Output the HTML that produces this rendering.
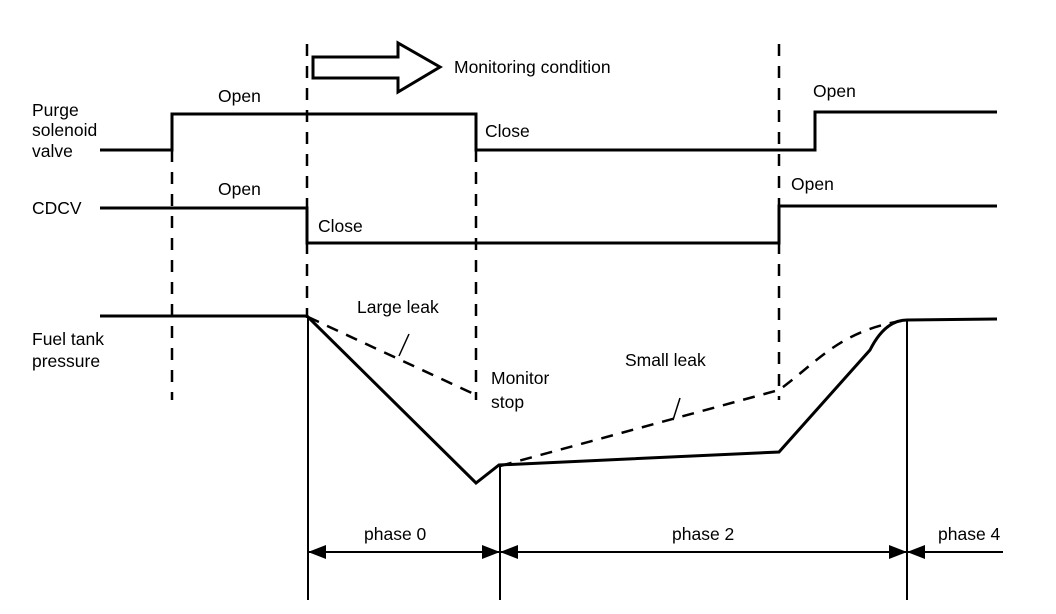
<!DOCTYPE html>
<html><head><meta charset="utf-8"><style>
html,body{margin:0;padding:0;background:#fff;}
svg{display:block;}
text{font-family:"Liberation Sans",sans-serif;font-size:17.5px;fill:#000;}
</style></head><body>
<svg width="1056" height="614" viewBox="0 0 1056 614" xmlns="http://www.w3.org/2000/svg">
<g fill="none" stroke="#000">
<g stroke-width="2.5" stroke-dasharray="12,10">
<line x1="172" y1="150" x2="172" y2="400"/>
<line x1="307" y1="44" x2="307" y2="318"/>
<line x1="476" y1="150" x2="476" y2="400"/>
<line x1="779" y1="44" x2="779" y2="400"/>
</g>
<g stroke-width="2">
<line x1="308" y1="316" x2="308" y2="600"/>
<line x1="500" y1="465" x2="500" y2="600"/>
<line x1="907" y1="320" x2="907" y2="600"/>
</g>
<g stroke-width="3">
<polyline points="100,150 172,150 172,114 476,114 476,150 815,150 815,112 997,112"/>
<polyline points="100,208 307,208 307,243 779,243 779,206 997,206"/>
<path d="M100,316 L307,316 L476,483 L499,465 L779,452 L870,350 Q885,320 907,320 L997,319"/>
</g>
<g stroke-width="2.5" stroke-dasharray="12,9">
<line x1="308" y1="317" x2="476" y2="395"/>
<path d="M500,466 L779,390 C820,360 840,330 907,320"/>
</g>
<g stroke-width="1.5">
<line x1="409" y1="334" x2="399" y2="356"/>
<line x1="680" y1="398" x2="673" y2="420"/>
</g>
<line x1="308" y1="552" x2="1003" y2="552" stroke-width="2"/>
<polygon points="313,57 398,57 398,43 440,67 398,92 398,78 313,78" stroke-width="3" fill="#fff"/>
</g>
<g fill="#000">
<polygon points="308,552 326,545 326,559"/>
<polygon points="500,552 482,545 482,559"/>
<polygon points="500,552 518,545 518,559"/>
<polygon points="907,552 889,545 889,559"/>
<polygon points="907,552 925,545 925,559"/>
</g>
<text x="454" y="73">Monitoring condition</text>
<text x="32" y="116">Purge</text>
<text x="32" y="136">solenoid</text>
<text x="32" y="157">valve</text>
<text x="218" y="102">Open</text>
<text x="485" y="137">Close</text>
<text x="813" y="97">Open</text>
<text x="32" y="214">CDCV</text>
<text x="218" y="195">Open</text>
<text x="318" y="232">Close</text>
<text x="791" y="190">Open</text>
<text x="32" y="345">Fuel tank</text>
<text x="32" y="367">pressure</text>
<text x="357" y="313">Large leak</text>
<text x="491" y="384">Monitor</text>
<text x="491" y="408">stop</text>
<text x="625" y="366">Small leak</text>
<text x="364" y="540">phase 0</text>
<text x="672" y="540">phase 2</text>
<text x="938" y="540">phase 4</text>
</svg>
</body></html>
